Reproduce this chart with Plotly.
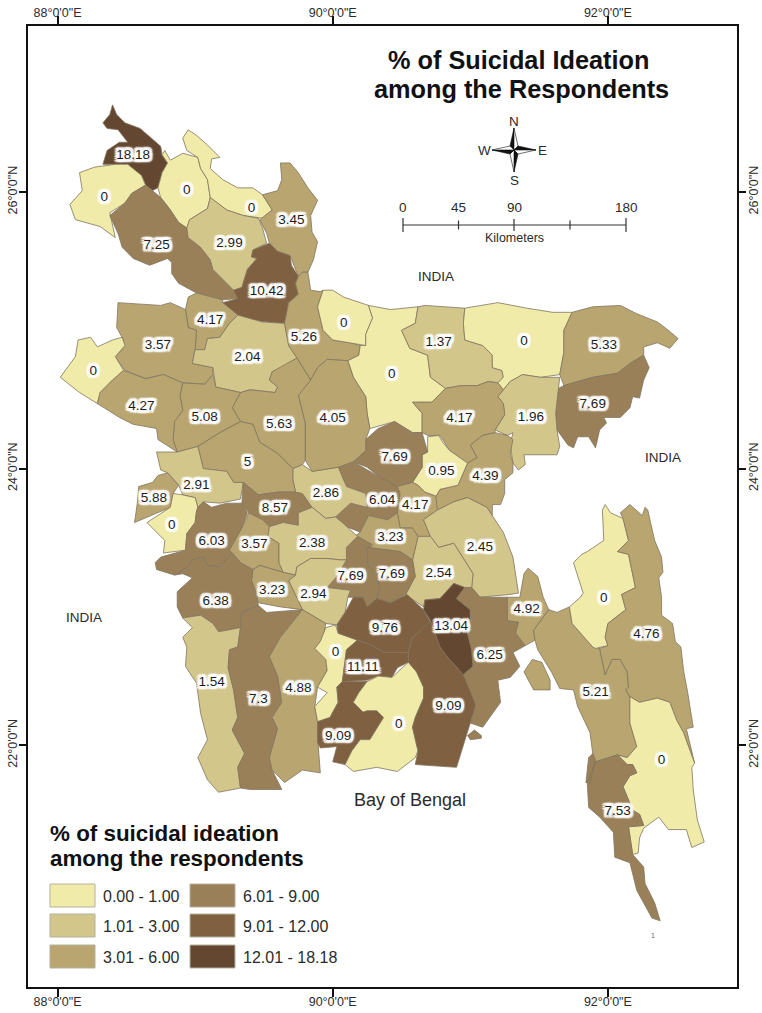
import plotly.graph_objects as go

# ---------- data: values and label anchors, in degrees ----------
DISTRICTS = ["Panchagarh","Thakurgaon","Nilphamari","Lalmonirhat","Kurigram","Dinajpur","Rangpur","Gaibandha",
             "Joypurhat","Naogaon","Chapai Nawabganj","Bogra","Jamalpur","Sherpur","Mymensingh","Netrokona",
             "Sunamganj","Sylhet","Moulvibazar","Habiganj","Kishoreganj","Brahmanbaria","Narsingdi","Gazipur",
             "Dhaka","Manikganj","Narayanganj","Comilla","Chandpur","Munshiganj","Madaripur","Shariatpur",
             "Tangail","Sirajganj","Natore","Rajshahi","Pabna","Kushtia","Meherpur","Chuadanga","Jhenaidah",
             "Rajbari","Magura","Faridpur","Gopalganj","Narail","Jessore","Satkhira","Khulna","Bagerhat",
             "Pirojpur","Barisal North","Barisal","Barguna","Patuakhali","Bhola","Lakshmipur","Noakhali","Feni",
             "Chittagong","Khagrachhari","Rangamati","Bandarban","Coxs Bazar"]
VALUES = [18.18,0,0,0,3.45,7.25,2.99,10.42,4.17,3.57,0,2.04,5.26,0,0,1.37,0,5.33,7.69,1.96,4.17,4.39,0.95,7.69,
          6.04,2.86,4.17,2.45,2.54,3.23,7.69,7.69,4.05,5.63,5.08,4.27,5,2.91,5.88,0,6.03,8.57,3.57,2.38,2.94,3.23,
          6.38,1.54,7.3,4.88,0,9.76,11.11,9.09,0,9.09,13.04,6.25,4.92,5.21,0,4.76,0,7.53]
LABEL_LON = [88.55,88.34,88.94,89.41,89.70,88.72,89.25,89.52,89.11,88.73,88.26,89.38,89.79,90.08,90.43,90.77,
             91.39,91.97,91.89,91.44,90.92,91.11,90.79,90.45,90.36,89.95,90.60,91.07,90.77,90.42,90.13,90.43,
             90.00,89.61,89.07,88.61,89.38,89.01,88.70,88.83,89.12,89.58,89.43,89.85,89.86,89.56,89.15,89.12,
             89.46,89.75,90.02,90.38,90.22,90.04,90.48,90.84,90.86,91.14,91.41,91.91,91.97,92.28,92.39,92.07]
LABEL_LAT = [26.26,25.96,26.01,25.88,25.79,25.61,25.63,25.28,25.07,24.89,24.70,24.80,24.95,25.05,24.68,24.91,
             24.92,24.89,24.46,24.37,24.36,23.94,23.98,24.08,23.77,23.82,23.73,23.43,23.24,23.50,23.22,23.23,
             24.36,24.32,24.37,24.45,24.04,23.88,23.78,23.59,23.47,23.71,23.45,23.46,23.09,23.12,23.04,22.45,
             22.33,22.41,22.67,22.84,22.56,22.06,22.15,22.28,22.86,22.65,22.98,22.38,23.06,22.80,21.89,21.52]

CLASS_LABELS = ["0.00 - 1.00","1.01 - 3.00","3.01 - 6.00","6.01 - 9.00","9.01 - 12.00","12.01 - 18.18"]
CLASS_UPPER = [1.00,3.00,6.00,9.00,12.00,18.18]
CLASS_COLORS = ["#F0EBA8","#D3C68B","#B9A56F","#9A8058","#7F6040","#644730"]

LON_TICKS = [88,90,92]
LON_TEXT = ["88°0'0\"E","90°0'0\"E","92°0'0\"E"]
LAT_TICKS = [22,24,26]
LAT_TEXT = ["22°0'0\"N","24°0'0\"N","26°0'0\"N"]
SCALE_KM = ["0","45","90","180"]

# ---------- data: district outlines, (lon, lat) ----------
PANCHAGARH=[(88.40,26.63),(88.43,26.56),(88.49,26.50),(88.60,26.46),(88.67,26.40),(88.75,26.33),(88.76,26.27),(88.80,26.21),(88.76,26.14),(88.73,26.03),(88.69,26.01),(88.64,26.05),(88.61,26.12),(88.51,26.20),(88.42,26.20),(88.33,26.20),(88.36,26.30),(88.45,26.36),(88.51,26.36),(88.44,26.45),(88.36,26.46),(88.33,26.50),(88.38,26.56)]
THAKURGAON=[(88.16,26.14),(88.27,26.18),(88.42,26.20),(88.51,26.20),(88.61,26.12),(88.64,26.05),(88.54,25.99),(88.49,25.92),(88.38,25.85),(88.42,25.67),(88.31,25.75),(88.21,25.78),(88.13,25.80),(88.09,25.91),(88.18,26.01)]
NILPHAMARI=[(88.76,26.27),(88.78,26.30),(88.82,26.23),(88.91,26.28),(89.02,26.25),(89.04,26.17),(89.09,26.09),(89.11,25.96),(89.09,25.88),(88.96,25.80),(88.94,25.74),(88.88,25.78),(88.82,25.87),(88.75,25.96),(88.73,26.03),(88.76,26.14),(88.80,26.21)]
LALMONIRHAT=[(88.95,26.45),(89.01,26.41),(89.09,26.34),(89.13,26.30),(89.18,26.25),(89.12,26.24),(89.11,26.17),(89.20,26.09),(89.31,26.03),(89.42,26.03),(89.49,25.98),(89.56,25.87),(89.49,25.81),(89.35,25.83),(89.23,25.87),(89.11,25.96),(89.09,26.09),(89.04,26.17),(89.02,26.25),(88.94,26.30),(88.91,26.39)]
KURIGRAM=[(89.62,26.21),(89.69,26.21),(89.75,26.14),(89.82,26.03),(89.89,25.94),(89.84,25.83),(89.85,25.71),(89.89,25.64),(89.86,25.51),(89.82,25.42),(89.78,25.42),(89.75,25.39),(89.69,25.54),(89.60,25.57),(89.54,25.63),(89.52,25.70),(89.47,25.80),(89.56,25.87),(89.49,25.98),(89.60,26.01),(89.63,26.09)]
DINAJPUR=[(88.54,25.99),(88.64,26.05),(88.69,26.01),(88.75,25.96),(88.82,25.87),(88.88,25.78),(88.94,25.74),(88.95,25.67),(89.04,25.60),(89.11,25.51),(89.13,25.44),(89.28,25.29),(89.31,25.23),(89.20,25.22),(89.01,25.27),(88.88,25.34),(88.83,25.41),(88.83,25.49),(88.80,25.52),(88.67,25.47),(88.55,25.52),(88.47,25.60),(88.44,25.70),(88.38,25.83),(88.49,25.92)]
RANGPUR=[(89.11,25.96),(89.23,25.87),(89.35,25.83),(89.46,25.81),(89.49,25.74),(89.52,25.63),(89.42,25.58),(89.41,25.53),(89.45,25.52),(89.38,25.44),(89.34,25.31),(89.28,25.29),(89.13,25.44),(89.11,25.51),(89.04,25.60),(88.95,25.67),(88.94,25.74),(88.96,25.80),(89.09,25.88)]
GAIBANDHA=[(89.54,25.63),(89.60,25.57),(89.69,25.54),(89.70,25.47),(89.75,25.39),(89.73,25.34),(89.75,25.26),(89.68,25.20),(89.65,25.05),(89.49,25.06),(89.41,25.07),(89.31,25.11),(89.20,25.20),(89.31,25.23),(89.28,25.29),(89.34,25.31),(89.38,25.44),(89.45,25.52),(89.41,25.53),(89.42,25.58)]
JOYPURHAT=[(89.01,25.27),(89.20,25.22),(89.20,25.20),(89.31,25.11),(89.25,25.05),(89.18,24.95),(89.09,24.94),(89.07,24.86),(89.00,24.86),(89.01,25.00),(88.95,25.02),(88.93,25.15),(88.95,25.24)]
NAOGAON=[(88.44,25.20),(88.58,25.19),(88.75,25.18),(88.82,25.20),(88.93,25.15),(88.95,25.02),(89.01,25.00),(89.00,24.86),(88.98,24.76),(89.13,24.73),(89.13,24.68),(89.07,24.61),(88.91,24.62),(88.77,24.68),(88.64,24.65),(88.49,24.71),(88.42,24.81),(88.47,24.86),(88.48,24.93),(88.43,25.02)]
CHAPAI=[(88.02,24.66),(88.13,24.81),(88.15,24.93),(88.24,24.95),(88.29,24.88),(88.40,24.93),(88.47,24.95),(88.49,24.89),(88.42,24.81),(88.48,24.71),(88.40,24.64),(88.31,24.55),(88.29,24.47),(88.16,24.55)]
BOGRA=[(89.31,25.11),(89.49,25.06),(89.65,25.05),(89.68,24.89),(89.74,24.80),(89.63,24.73),(89.56,24.70),(89.54,24.64),(89.60,24.59),(89.58,24.55),(89.40,24.57),(89.33,24.55),(89.15,24.59),(89.13,24.73),(88.98,24.76),(89.00,24.86),(89.07,24.86),(89.09,24.94),(89.18,24.95),(89.25,25.05)]
JAMALPUR=[(89.75,25.39),(89.78,25.42),(89.82,25.42),(89.84,25.29),(89.91,25.28),(89.93,25.29),(89.89,25.17),(89.93,25.00),(90.00,24.93),(90.13,24.91),(90.20,24.89),(90.19,24.82),(90.11,24.78),(89.96,24.79),(89.89,24.73),(89.84,24.64),(89.74,24.80),(89.68,24.89),(89.65,25.05),(89.68,25.20),(89.75,25.26),(89.73,25.34)]
SHERPUR=[(89.93,25.29),(90.00,25.29),(90.08,25.24),(90.26,25.18),(90.29,25.09),(90.24,24.97),(90.24,24.89),(90.08,24.92),(90.00,24.93),(89.93,25.00),(89.89,25.17)]
MYMENSINGH=[(90.26,25.18),(90.42,25.15),(90.62,25.17),(90.60,25.05),(90.50,25.00),(90.56,24.87),(90.69,24.82),(90.71,24.66),(90.82,24.58),(90.72,24.48),(90.58,24.48),(90.65,24.40),(90.65,24.26),(90.58,24.26),(90.45,24.34),(90.27,24.29),(90.25,24.40),(90.24,24.52),(90.15,24.66),(90.11,24.78),(90.19,24.82),(90.20,24.89),(90.24,24.89),(90.24,24.97),(90.29,25.09)]
NETROKONA=[(90.62,25.17),(90.67,25.18),(90.96,25.16),(90.95,25.05),(90.96,24.93),(91.09,24.89),(91.16,24.82),(91.16,24.73),(91.23,24.71),(91.24,24.66),(91.20,24.62),(91.13,24.63),(91.05,24.60),(90.93,24.60),(90.82,24.58),(90.71,24.66),(90.69,24.82),(90.56,24.87),(90.50,25.00),(90.60,25.05)]
SUNAMGANJ=[(90.96,25.16),(91.20,25.20),(91.41,25.16),(91.60,25.13),(91.74,25.13),(91.68,25.00),(91.68,24.84),(91.65,24.68),(91.51,24.66),(91.38,24.68),(91.29,24.63),(91.24,24.57),(91.20,24.62),(91.24,24.66),(91.23,24.71),(91.16,24.73),(91.16,24.82),(91.09,24.89),(90.96,24.93),(90.95,25.05)]
SYLHET=[(91.74,25.13),(91.89,25.17),(92.09,25.18),(92.21,25.12),(92.36,25.06),(92.44,25.00),(92.51,24.94),(92.45,24.87),(92.36,24.91),(92.26,24.88),(92.26,24.82),(92.16,24.76),(92.07,24.69),(91.89,24.66),(91.78,24.63),(91.68,24.60),(91.65,24.68),(91.68,24.84),(91.68,25.00)]
MOULVIBAZAR=[(92.26,24.82),(92.30,24.73),(92.26,24.64),(92.23,24.51),(92.18,24.52),(92.16,24.44),(92.09,24.37),(91.97,24.37),(91.99,24.33),(91.94,24.28),(91.91,24.15),(91.86,24.23),(91.78,24.23),(91.75,24.15),(91.71,24.17),(91.63,24.28),(91.62,24.40),(91.64,24.58),(91.68,24.60),(91.78,24.63),(91.89,24.66),(92.07,24.69),(92.16,24.76)]
HABIGANJ=[(91.38,24.68),(91.51,24.66),(91.65,24.66),(91.64,24.58),(91.62,24.40),(91.63,24.28),(91.65,24.16),(91.63,24.10),(91.39,24.10),(91.40,24.03),(91.35,23.99),(91.31,24.04),(91.29,24.18),(91.31,24.26),(91.27,24.24),(91.18,24.28),(91.25,24.39),(91.24,24.47),(91.20,24.52),(91.24,24.57),(91.29,24.63)]
KISHOREGANJ=[(90.82,24.58),(90.93,24.60),(91.05,24.60),(91.13,24.63),(91.20,24.62),(91.24,24.57),(91.20,24.52),(91.24,24.47),(91.25,24.39),(91.18,24.28),(91.18,24.26),(91.09,24.24),(91.00,24.17),(91.05,24.08),(90.98,24.04),(90.85,24.13),(90.78,24.24),(90.69,24.24),(90.65,24.26),(90.65,24.40),(90.58,24.48),(90.72,24.48)]
BRAHMANBARIA=[(91.00,24.17),(91.09,24.24),(91.18,24.26),(91.27,24.24),(91.31,24.21),(91.29,24.11),(91.31,24.04),(91.31,23.97),(91.25,23.92),(91.25,23.82),(91.22,23.74),(91.16,23.74),(91.16,23.66),(91.12,23.72),(90.98,23.79),(90.88,23.76),(90.76,23.70),(90.73,23.76),(90.78,23.85),(90.91,23.88),(90.98,24.04),(91.05,24.08)]
NARSINGDI=[(90.69,24.23),(90.77,24.24),(90.80,24.19),(90.85,24.13),(90.98,24.04),(90.91,23.88),(90.78,23.85),(90.75,23.80),(90.67,23.83),(90.62,23.88),(90.58,23.90),(90.65,24.01),(90.65,24.10),(90.69,24.12)]
GAZIPUR=[(90.45,24.34),(90.58,24.26),(90.65,24.26),(90.69,24.12),(90.65,24.10),(90.65,24.01),(90.58,23.90),(90.47,23.87),(90.34,23.94),(90.25,24.01),(90.15,24.05),(90.24,24.13),(90.24,24.21),(90.33,24.29)]
DHAKA=[(90.04,24.01),(90.15,24.05),(90.34,23.94),(90.47,23.87),(90.49,23.82),(90.47,23.68),(90.40,23.63),(90.26,23.66),(90.20,23.54),(90.10,23.58),(90.02,23.65),(90.13,23.75),(90.25,23.72),(90.24,23.82),(90.10,23.87)]
MANIKGANJ=[(89.71,24.00),(89.78,24.03),(89.85,23.98),(90.04,24.01),(90.10,23.87),(90.24,23.82),(90.25,23.72),(90.13,23.75),(90.02,23.65),(89.95,23.64),(89.85,23.72),(89.73,23.83),(89.71,23.92)]
NARAYANGANJ=[(90.47,23.87),(90.58,23.90),(90.62,23.88),(90.67,23.83),(90.75,23.80),(90.76,23.70),(90.66,23.63),(90.71,23.51),(90.62,23.51),(90.58,23.57),(90.49,23.57),(90.47,23.68),(90.49,23.82)]
COMILLA=[(90.66,23.63),(90.76,23.70),(90.88,23.76),(90.98,23.79),(91.12,23.72),(91.16,23.66),(91.24,23.54),(91.31,23.36),(91.35,23.10),(91.29,23.09),(91.07,23.07),(91.01,23.14),(91.02,23.24),(90.88,23.46),(90.77,23.43),(90.71,23.51)]
CHANDPUR=[(90.62,23.51),(90.71,23.51),(90.77,23.43),(90.88,23.46),(91.02,23.24),(91.01,23.14),(90.96,23.14),(90.88,23.17),(90.78,23.06),(90.67,23.05),(90.66,23.00),(90.53,23.09),(90.60,23.22),(90.58,23.34)]
MUNSHIGANJ=[(90.26,23.66),(90.40,23.63),(90.47,23.68),(90.49,23.57),(90.58,23.57),(90.62,23.51),(90.58,23.34),(90.49,23.40),(90.25,23.43),(90.16,23.51),(90.20,23.54)]
MADARIPUR=[(90.10,23.43),(90.18,23.51),(90.29,23.45),(90.25,23.41),(90.26,23.29),(90.33,23.22),(90.34,23.14),(90.32,23.06),(90.25,23.00),(90.22,23.07),(90.11,23.07),(90.13,23.12),(89.96,23.14),(90.03,23.22),(90.10,23.34)]
SHARIATPUR=[(90.25,23.43),(90.49,23.40),(90.58,23.34),(90.60,23.22),(90.53,23.09),(90.42,23.03),(90.32,23.06),(90.34,23.14),(90.33,23.22),(90.26,23.29),(90.25,23.41)]
TANGAIL=[(89.89,24.73),(89.96,24.79),(90.11,24.78),(90.15,24.66),(90.24,24.52),(90.25,24.40),(90.27,24.29),(90.24,24.21),(90.24,24.13),(90.15,24.05),(90.04,24.01),(89.85,23.98),(89.80,24.06),(89.80,24.33),(89.75,24.53),(89.78,24.57),(89.84,24.64)]
SIRAJGANJ=[(89.56,24.70),(89.74,24.80),(89.84,24.64),(89.78,24.57),(89.75,24.53),(89.80,24.33),(89.80,24.06),(89.78,24.03),(89.71,24.00),(89.60,24.11),(89.47,24.19),(89.42,24.32),(89.33,24.34),(89.27,24.44),(89.33,24.55),(89.40,24.57),(89.58,24.55),(89.60,24.59),(89.54,24.64)]
NATORE=[(88.91,24.62),(89.07,24.61),(89.13,24.68),(89.15,24.59),(89.33,24.55),(89.27,24.44),(89.33,24.34),(89.18,24.26),(89.02,24.16),(88.87,24.12),(88.84,24.21),(88.85,24.34),(88.91,24.42),(88.89,24.53)]
RAJSHAHI=[(88.31,24.55),(88.40,24.64),(88.48,24.71),(88.64,24.65),(88.77,24.68),(88.91,24.62),(88.89,24.53),(88.91,24.42),(88.85,24.34),(88.84,24.21),(88.87,24.12),(88.73,24.21),(88.72,24.29),(88.55,24.32),(88.45,24.37),(88.29,24.47)]
PABNA=[(89.33,24.34),(89.42,24.32),(89.47,24.19),(89.60,24.11),(89.71,24.00),(89.71,23.92),(89.73,23.83),(89.60,23.83),(89.46,23.81),(89.35,23.90),(89.28,23.90),(89.23,23.98),(89.06,24.00),(89.02,24.16),(89.18,24.26)]
KUSHTIA=[(88.72,24.12),(88.87,24.12),(89.02,24.16),(89.06,24.00),(89.23,23.98),(89.28,23.90),(89.35,23.90),(89.33,23.78),(89.18,23.75),(89.06,23.76),(89.02,23.72),(89.00,23.79),(88.91,23.81),(88.88,23.88),(88.80,23.97),(88.75,23.99)]
MEHERPUR=[(88.73,23.95),(88.80,23.97),(88.88,23.88),(88.84,23.82),(88.82,23.72),(88.66,23.65),(88.56,23.61),(88.58,23.75),(88.59,23.87),(88.69,23.90)]
CHUADANGA=[(88.84,23.82),(88.91,23.81),(89.00,23.79),(89.02,23.72),(89.01,23.69),(89.00,23.61),(88.94,23.53),(88.93,23.41),(88.77,23.39),(88.78,23.48),(88.65,23.61),(88.82,23.72)]
JHENAIDAH=[(89.02,23.72),(89.06,23.76),(89.12,23.72),(89.23,23.75),(89.34,23.75),(89.38,23.68),(89.34,23.57),(89.25,23.41),(89.27,23.39),(89.18,23.29),(89.09,23.30),(89.06,23.36),(88.98,23.34),(88.95,23.29),(88.85,23.23),(88.72,23.27),(88.71,23.32),(88.75,23.36),(88.93,23.41),(88.94,23.53),(89.00,23.61),(89.01,23.69)]
RAJBARI=[(89.35,23.90),(89.46,23.81),(89.60,23.83),(89.73,23.83),(89.78,23.82),(89.85,23.72),(89.75,23.68),(89.75,23.59),(89.64,23.61),(89.54,23.58),(89.49,23.63),(89.39,23.68),(89.34,23.75)]
MAGURA=[(89.39,23.68),(89.49,23.63),(89.54,23.58),(89.53,23.51),(89.61,23.46),(89.61,23.32),(89.64,23.25),(89.47,23.30),(89.42,23.27),(89.33,23.32),(89.27,23.39),(89.25,23.41),(89.34,23.57)]
FARIDPUR=[(89.54,23.58),(89.64,23.61),(89.75,23.59),(89.75,23.68),(89.85,23.72),(89.95,23.64),(90.02,23.65),(90.07,23.61),(90.18,23.51),(90.10,23.43),(90.10,23.34),(90.05,23.34),(89.96,23.35),(89.84,23.35),(89.74,23.29),(89.73,23.23),(89.64,23.25),(89.61,23.32),(89.61,23.46),(89.53,23.51)]
GOPALGANJ=[(89.74,23.29),(89.84,23.35),(89.96,23.35),(90.05,23.34),(90.10,23.34),(90.03,23.22),(89.96,23.14),(90.13,23.12),(90.11,23.07),(90.09,22.96),(90.03,22.87),(89.95,22.88),(89.78,22.98),(89.68,23.19),(89.73,23.23)]
NARAIL=[(89.42,23.27),(89.47,23.30),(89.64,23.25),(89.73,23.23),(89.68,23.19),(89.78,22.98),(89.62,23.00),(89.46,23.03),(89.44,23.11),(89.41,23.19)]
JESSORE=[(88.98,23.34),(89.06,23.36),(89.09,23.30),(89.18,23.29),(89.27,23.39),(89.33,23.32),(89.42,23.27),(89.41,23.19),(89.44,23.11),(89.46,23.01),(89.34,22.96),(89.33,22.85),(89.17,22.82),(89.13,22.88),(89.04,22.94),(88.91,22.92),(88.87,23.00),(88.87,23.11),(88.98,23.21),(88.91,23.24),(88.85,23.23),(88.95,23.29)]
SATKHIRA=[(88.91,22.92),(89.04,22.94),(89.13,22.88),(89.17,22.82),(89.33,22.85),(89.31,22.71),(89.25,22.69),(89.24,22.56),(89.28,22.40),(89.31,22.20),(89.27,22.11),(89.36,21.94),(89.31,21.84),(89.33,21.69),(89.17,21.66),(89.09,21.75),(89.02,21.91),(89.09,22.04),(89.04,22.23),(89.01,22.45),(88.93,22.57),(88.94,22.71),(88.91,22.78),(88.98,22.85)]
KHULNA=[(89.33,22.85),(89.34,22.96),(89.46,23.01),(89.52,22.96),(89.78,22.98),(89.62,22.78),(89.54,22.64),(89.60,22.50),(89.63,22.31),(89.56,22.20),(89.60,22.12),(89.54,21.91),(89.56,21.82),(89.63,21.68),(89.40,21.68),(89.33,21.69),(89.31,21.84),(89.36,21.94),(89.27,22.11),(89.31,22.20),(89.28,22.40),(89.24,22.56),(89.25,22.69),(89.31,22.71)]
BAGERHAT=[(89.78,22.98),(89.95,22.88),(89.93,22.76),(89.87,22.70),(89.95,22.62),(89.96,22.54),(89.89,22.42),(89.87,22.28),(89.89,22.17),(89.89,22.06),(89.91,21.80),(89.78,21.82),(89.65,21.73),(89.56,21.82),(89.54,21.91),(89.60,22.12),(89.56,22.20),(89.63,22.31),(89.60,22.50),(89.54,22.64),(89.62,22.78)]
PIROJPUR=[(89.95,22.85),(90.02,22.87),(90.04,22.81),(90.18,22.76),(90.10,22.69),(90.09,22.62),(90.08,22.53),(90.07,22.46),(90.03,22.42),(90.04,22.31),(89.98,22.20),(89.89,22.17),(89.87,22.28),(89.96,22.38),(89.89,22.42),(89.96,22.54),(89.95,22.62),(89.87,22.70),(89.91,22.75)]
BARISAL_N=[(90.03,22.87),(90.09,22.96),(90.15,23.07),(90.22,23.07),(90.25,23.00),(90.32,23.06),(90.42,23.03),(90.54,23.09),(90.66,22.98),(90.71,22.89),(90.62,22.81),(90.58,22.78),(90.55,22.67),(90.37,22.67),(90.29,22.72),(90.18,22.76),(90.04,22.81)]
BARISAL=[(90.10,22.69),(90.18,22.76),(90.29,22.72),(90.37,22.67),(90.55,22.67),(90.55,22.60),(90.47,22.56),(90.43,22.49),(90.33,22.50),(90.25,22.47),(90.07,22.46),(90.08,22.53),(90.09,22.62)]
BARGUNA=[(90.07,22.46),(90.25,22.46),(90.19,22.38),(90.15,22.31),(90.22,22.24),(90.25,22.25),(90.32,22.25),(90.37,22.20),(90.27,22.04),(90.20,22.04),(90.14,21.96),(90.09,21.86),(90.00,21.88),(90.03,21.99),(89.91,21.98),(89.89,22.02),(89.89,22.17),(89.98,22.20),(90.04,22.31),(90.03,22.42)]
PATUAKHALI=[(90.25,22.46),(90.33,22.50),(90.43,22.49),(90.55,22.60),(90.61,22.53),(90.66,22.42),(90.66,22.34),(90.60,22.20),(90.58,22.13),(90.62,21.96),(90.60,21.91),(90.47,21.81),(90.32,21.84),(90.15,21.81),(90.09,21.86),(90.14,21.96),(90.20,22.04),(90.27,22.04),(90.37,22.20),(90.32,22.25),(90.25,22.25),(90.22,22.24),(90.15,22.31),(90.19,22.38)]
BHOLA=[(90.55,22.67),(90.58,22.78),(90.62,22.81),(90.71,22.90),(90.78,22.71),(90.84,22.63),(90.95,22.51),(91.00,22.40),(91.04,22.29),(91.00,22.16),(90.96,22.02),(90.90,21.84),(90.60,21.86),(90.62,21.96),(90.58,22.13),(90.60,22.20),(90.66,22.34),(90.66,22.42),(90.61,22.53),(90.55,22.60)]
LAKSHMIPUR=[(90.67,23.05),(90.78,23.06),(90.88,23.17),(90.96,23.14),(90.90,23.06),(91.00,22.98),(91.00,22.90),(90.98,22.81),(91.01,22.69),(91.02,22.57),(90.95,22.51),(90.84,22.63),(90.78,22.71),(90.71,22.90),(90.66,22.98)]
NOAKHALI=[(90.96,23.14),(91.01,23.14),(91.07,23.07),(91.27,23.07),(91.27,22.90),(91.35,22.89),(91.33,22.81),(91.40,22.72),(91.31,22.67),(91.36,22.57),(91.29,22.49),(91.20,22.47),(91.22,22.31),(91.09,22.13),(91.00,22.16),(91.04,22.29),(90.95,22.51),(91.02,22.57),(91.01,22.69),(90.98,22.81),(91.00,22.90),(91.00,22.98),(90.90,23.06)]
HATIYA=[(90.98,22.07),(91.03,22.11),(91.08,22.07),(91.08,22.05),(91.00,22.04)]
FENI=[(91.27,23.07),(91.36,23.07),(91.39,23.24),(91.42,23.28),(91.49,23.22),(91.53,23.07),(91.57,22.98),(91.46,22.83),(91.47,22.76),(91.40,22.72),(91.33,22.81),(91.35,22.89),(91.27,22.90)]
CHITTAGONG=[(91.57,22.98),(91.63,22.96),(91.72,23.00),(91.74,22.88),(91.81,22.80),(91.89,22.71),(91.94,22.70),(91.98,22.51),(92.03,22.62),(92.09,22.62),(92.14,22.53),(92.15,22.42),(92.13,22.40),(92.16,22.35),(92.16,22.16),(92.21,21.99),(92.14,21.91),(92.07,21.93),(91.91,21.88),(91.89,21.94),(91.87,22.09),(91.78,22.28),(91.75,22.40),(91.65,22.41),(91.59,22.53),(91.49,22.69),(91.47,22.76),(91.46,22.83)]
SANDWIP=[(91.39,22.53),(91.45,22.62),(91.52,22.60),(91.58,22.47),(91.58,22.40),(91.46,22.40)]
KHAGRACHHARI=[(91.96,23.70),(91.98,23.74),(92.02,23.68),(92.11,23.64),(92.15,23.48),(92.07,23.40),(92.15,23.38),(92.20,23.14),(92.10,23.09),(92.13,22.98),(92.00,22.88),(91.98,22.78),(92.00,22.72),(91.91,22.70),(91.89,22.71),(91.81,22.80),(91.74,22.88),(91.72,23.00),(91.80,23.07),(91.82,23.10),(91.76,23.30),(91.75,23.32),(91.81,23.38),(91.85,23.40),(91.97,23.48)]
RANGAMATI=[(92.11,23.64),(92.09,23.68),(92.16,23.74),(92.22,23.69),(92.25,23.66),(92.27,23.72),(92.29,23.70),(92.31,23.61),(92.34,23.48),(92.39,23.36),(92.40,23.25),(92.37,23.21),(92.39,23.07),(92.39,22.94),(92.47,22.88),(92.49,22.75),(92.53,22.71),(92.55,22.54),(92.58,22.38),(92.62,22.13),(92.57,22.12),(92.63,21.87),(92.55,22.09),(92.50,22.18),(92.45,22.31),(92.36,22.34),(92.23,22.31),(92.16,22.35),(92.13,22.40),(92.15,22.42),(92.14,22.53),(92.09,22.62),(92.03,22.62),(91.98,22.51),(91.94,22.70),(92.00,22.72),(91.98,22.78),(92.00,22.88),(92.13,22.98),(92.10,23.09),(92.20,23.14),(92.15,23.38),(92.07,23.40),(92.15,23.48)]
BANDARBAN=[(92.16,22.35),(92.23,22.31),(92.36,22.34),(92.45,22.31),(92.50,22.18),(92.55,22.09),(92.63,21.87),(92.61,21.84),(92.62,21.68),(92.65,21.46),(92.70,21.30),(92.61,21.26),(92.57,21.39),(92.44,21.39),(92.37,21.48),(92.26,21.40),(92.23,21.33),(92.22,21.22),(92.18,21.21),(92.15,21.41),(92.26,21.42),(92.23,21.50),(92.18,21.53),(92.11,21.70),(92.16,21.78),(92.21,21.80),(92.18,21.86),(92.14,21.86),(92.07,21.93),(92.14,21.91),(92.21,21.99),(92.16,22.16)]
COXS_BAZAR=[(92.07,21.93),(92.14,21.86),(92.18,21.86),(92.21,21.80),(92.16,21.78),(92.11,21.70),(92.18,21.53),(92.23,21.50),(92.26,21.42),(92.15,21.41),(92.18,21.21),(92.26,21.12),(92.27,21.00),(92.34,20.86),(92.38,20.73),(92.32,20.75),(92.21,20.95),(92.16,21.15),(92.05,21.19),(92.04,21.37),(91.94,21.48),(91.86,21.55),(91.85,21.73),(91.91,21.88)]
MOHESHKHALI=[(91.86,21.91),(91.89,21.94),(91.91,21.89),(91.87,21.73),(91.84,21.73)]

BOUNDARIES = [[PANCHAGARH],[THAKURGAON],[NILPHAMARI],[LALMONIRHAT],[KURIGRAM],[DINAJPUR],[RANGPUR],[GAIBANDHA],
              [JOYPURHAT],[NAOGAON],[CHAPAI],[BOGRA],[JAMALPUR],[SHERPUR],[MYMENSINGH],[NETROKONA],[SUNAMGANJ],
              [SYLHET],[MOULVIBAZAR],[HABIGANJ],[KISHOREGANJ],[BRAHMANBARIA],[NARSINGDI],[GAZIPUR],[DHAKA],
              [MANIKGANJ],[NARAYANGANJ],[COMILLA],[CHANDPUR],[MUNSHIGANJ],[MADARIPUR],[SHARIATPUR],[TANGAIL],
              [SIRAJGANJ],[NATORE],[RAJSHAHI],[PABNA],[KUSHTIA],[MEHERPUR],[CHUADANGA],[JHENAIDAH],[RAJBARI],
              [MAGURA],[FARIDPUR],[GOPALGANJ],[NARAIL],[JESSORE],[SATKHIRA],[KHULNA],[BAGERHAT],[PIROJPUR],
              [BARISAL_N],[BARISAL],[BARGUNA],[PATUAKHALI],[BHOLA],[LAKSHMIPUR],[NOAKHALI,HATIYA],[FENI],
              [CHITTAGONG,SANDWIP],[KHAGRACHHARI],[RANGAMATI],[BANDARBAN],[COXS_BAZAR,MOHESHKHALI]]

# ---------- layout constants ----------
W, H = 762, 1013
L, T, R, B = 28, 26, 737, 987
FONT = "Liberation Sans, Arial, sans-serif"
INK = "#2b2b2b"
def PX(x): return (x - L) / (R - L)
def PY(y): return (B - y) / (B - T)

def color_for(v):
    for top, c in zip(CLASS_UPPER, CLASS_COLORS):
        if v <= top:
            return c
    return CLASS_COLORS[-1]

fig = go.Figure()
for name, value, parts in zip(DISTRICTS, VALUES, BOUNDARIES):
    xs, ys = [], []
    for part in parts:
        xs += [p[0] for p in part] + [part[0][0], None]
        ys += [p[1] for p in part] + [part[0][1], None]
    fig.add_trace(go.Scatter(x=xs, y=ys, mode="lines", fill="toself", fillcolor=color_for(value),
                             line=dict(color="#80755f", width=0.8), name=name, hoverinfo="name"))

halo = ",".join(f"{dx}px {dy}px 1.5px #fff" for dx in (-3, -2, 0, 2, 3) for dy in (-3, -2, 0, 2, 3)
                if 2 <= (dx*dx + dy*dy) ** 0.5 <= 3.7)
fig.add_trace(go.Scatter(x=LABEL_LON, y=LABEL_LAT, mode="text", text=[f"{v:g}" for v in VALUES],
                         textposition="middle center", hoverinfo="skip",
                         textfont=dict(family=FONT, size=13.5, color="#1c1c1c", shadow=halo)))
# empty trace so the top and right axes are drawn
fig.add_trace(go.Scatter(x=[90], y=[24], xaxis="x2", yaxis="y2", mode="markers",
                         marker=dict(opacity=0), hoverinfo="skip"))

XR = [88 + (L - 57.5) / 137.6, 88 + (R - 57.5) / 137.6]
YR = [26 - (B - 192) / 138.3, 26 + (192 - T) / 138.3]
xax = dict(range=XR, tickvals=LON_TICKS, ticktext=LON_TEXT, ticks="outside", ticklen=8, tickwidth=1.5,
           tickcolor="#111", showline=True, linewidth=2, linecolor="#111", showgrid=False, zeroline=False,
           tickfont=dict(family=FONT, size=12.5, color=INK), fixedrange=True, automargin=False,
           ticklabelstandoff=-6)
yax = dict(range=YR, tickvals=LAT_TICKS, ticktext=LAT_TEXT, ticks="outside", ticklen=7, tickwidth=1.5,
           tickcolor="#111", showline=True, linewidth=2, linecolor="#111", showgrid=False, zeroline=False,
           tickangle=-90, tickfont=dict(family=FONT, size=12.5, color=INK), fixedrange=True, automargin=False,
           ticklabelstandoff=-3)

ann, shapes = [], []
def text(x, y, s, size, bold=False, anchor="center", color=INK):
    ann.append(dict(x=PX(x - 2 if anchor == "left" else x), y=PY(y), xref="paper", yref="paper",
                    text=f"<b>{s}</b>" if bold else s,
                    showarrow=False, xanchor=anchor, yanchor="middle",
                    font=dict(family=FONT, size=size, color=color)))

# title
text(518, 60, "% of Suicidal Ideation", 25.3, True, color="#111")
text(521, 89, "among the Respondents", 25.3, True, color="#111")

# place names
text(436, 276, "INDIA", 13.5)
text(663, 457, "INDIA", 13.5)
text(84, 617, "INDIA", 13.5)
text(410, 800, "Bay of Bengal", 18)
text(653, 935, "1", 7, color="#666")

# legend
text(50, 833, "% of suicidal ideation", 22.4, True, "left", "#111")
text(50, 859, "among the respondents", 22.4, True, "left", "#111")
rows = [884, 914, 945]
for i, (lab, col) in enumerate(zip(CLASS_LABELS, CLASS_COLORS)):
    x0 = 50 if i < 3 else 190
    y0 = rows[i % 3]
    shapes.append(dict(type="rect", xref="paper", yref="paper", x0=PX(x0), x1=PX(x0 + 45), y0=PY(y0), y1=PY(y0 + 23),
                       fillcolor=col, line=dict(color="#b5b0a0", width=1)))
    text(x0 + 53, y0 + 12, lab, 16, anchor="left")

# compass
cx, cy = 514, 150
def poly(points, fill):
    d = "M" + " L".join(f"{PX(a)},{PY(b)}" for a, b in points) + " Z"
    shapes.append(dict(type="path", xref="paper", yref="paper", path=d, fillcolor=fill,
                       line=dict(color="#111", width=0.6)))
arms = [((0, -22), (-4, -4), (4, -4)), ((22, 0), (4, -4), (4, 4)),
        ((0, 22), (4, 4), (-4, 4)), ((-22, 0), (-4, 4), (-4, -4))]
for tip, dark, light in arms:
    t = (cx + tip[0], cy + tip[1])
    poly([t, (cx, cy), (cx + dark[0], cy + dark[1])], "#111")
    poly([t, (cx, cy), (cx + light[0], cy + light[1])], "#fff")
text(514, 121, "N", 13.5)
text(514, 180, "S", 13.5)
text(484, 150, "W", 13.5)
text(542, 150, "E", 13.5)

# scale bar
def seg(x0, y0, x1, y1, w=1.2):
    shapes.append(dict(type="line", xref="paper", yref="paper", x0=PX(x0), x1=PX(x1), y0=PY(y0), y1=PY(y1),
                       line=dict(color="#333", width=w)))
seg(403, 225, 626, 225)
for tx, half in [(403, 7), (458.5, 4.5), (514, 6), (570, 4.5), (626, 7)]:
    seg(tx, 225 - half, tx, 225 + half)
for tx, lab in zip([403, 458.5, 514, 626], SCALE_KM):
    text(tx, 208, lab, 13.5)
text(514, 238, "Kilometers", 12.5)

fig.update_layout(
    width=W, height=H, autosize=False, showlegend=False,
    margin=dict(l=L, r=W - R, t=T, b=H - B, pad=0),
    paper_bgcolor="white", plot_bgcolor="white", hovermode="closest",
    xaxis=dict(**xax, side="bottom", domain=[0, 1]),
    yaxis=dict(**yax, side="left", domain=[0, 1]),
    xaxis2=dict(**xax, side="top", overlaying="x", anchor="y"),
    yaxis2=dict(**yax, side="right", overlaying="y", anchor="x"),
    annotations=ann, shapes=shapes,
)
fig.write_html("out.html", config={"displayModeBar": False},
               post_script="document.body.style.margin='0';document.documentElement.style.overflow='hidden';")
